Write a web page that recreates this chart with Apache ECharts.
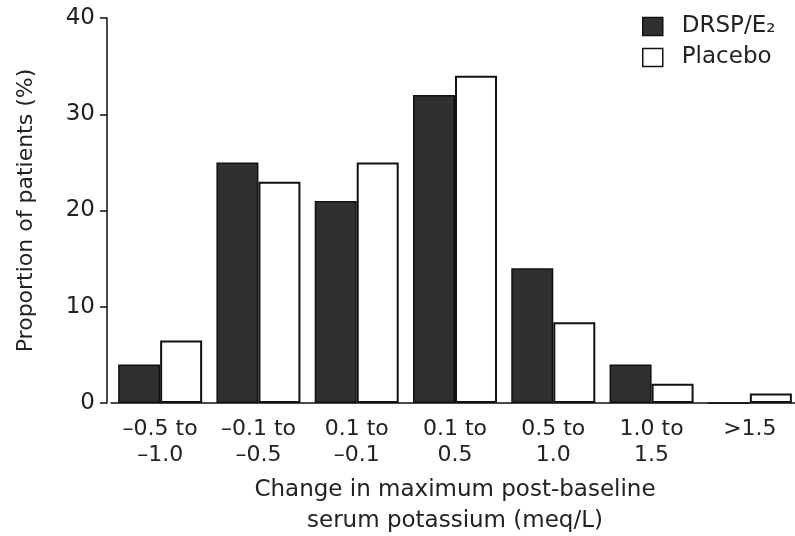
<!DOCTYPE html>
<html>
<head>
<meta charset="utf-8">
<script src="https://cdn.jsdelivr.net/npm/echarts@6/dist/echarts.min.js"></script>
<style>html,body{margin:0;padding:0;background:#fff;}#c{width:795px;height:536px;}</style>
</head>
<body>
<div id="c"></div>
<script>
var categories = ['–0.5 to\n–1.0', '–0.1 to\n–0.5', '0.1 to\n–0.1', '0.1 to\n0.5', '0.5 to\n1.0', '1.0 to\n1.5', '>1.5'];
var drspValues = [4, 25, 21, 32, 14, 4, 0];
var placeboValues = [6.5, 23, 25, 34, 8.4, 2, 1];
var yTicks = [0, 10, 20, 30, 40];

var FONT = 'DejaVu Sans';
var chart = echarts.init(document.getElementById('c'), null, {renderer: 'canvas'});
chart.setOption({
  animation: false,
  backgroundColor: '#fff',
  textStyle: {fontFamily: FONT, color: '#222'},
  grid: {left: 111, top: 18, width: 688, bottom: 133, containLabel: false, outerBoundsMode: 'none'},
  legend: {
    orient: 'vertical', left: 642, top: 15, padding: 0, itemWidth: 20, itemHeight: 18, itemGap: 8,
    icon: 'rect',
    textStyle: {fontFamily: FONT, fontSize: 23, color: '#222', padding: [0,0,0,14]},
    data: [
      {name: 'DRSP/E₂', itemStyle: {color: '#303030', borderColor: '#111', borderWidth: 1.5}},
      {name: 'Placebo', itemStyle: {color: '#fff', borderColor: '#111', borderWidth: 1.5}}
    ]
  },
  xAxis: {
    type: 'category', data: categories,
    axisLine: {lineStyle: {color: '#111', width: 1.5}},
    axisTick: {show: false},
    axisLabel: {fontFamily: FONT, fontSize: 22, color: '#222', lineHeight: 26, margin: 13, interval: 0},
    name: 'Change in maximum post-baseline\nserum potassium (meq/L)',
    nameLocation: 'middle', nameGap: 72,
    nameTextStyle: {fontFamily: FONT, fontSize: 23, color: '#222', lineHeight: 31}
  },
  yAxis: {
    type: 'value', min: yTicks[0], max: yTicks[yTicks.length-1], interval: 10,
    offset: 4,
    axisLine: {show: true, lineStyle: {color: '#111', width: 1.5}},
    axisTick: {show: true, length: 7, lineStyle: {color: '#111', width: 1.5}},
    splitLine: {show: false},
    axisLabel: {fontFamily: FONT, fontSize: 23, color: '#222', margin: 12},
    name: 'Proportion of patients (%)',
    nameLocation: 'middle', nameGap: 70,
    nameTextStyle: {fontFamily: FONT, fontSize: 22, color: '#222'}
  },
  series: [
    {name: 'DRSP/E₂', type: 'bar', data: drspValues, barWidth: 42, barGap: '0%',
     itemStyle: {color: '#303030', borderColor: '#111', borderWidth: 1.5}},
    {name: 'Placebo', type: 'bar', data: placeboValues, barWidth: 42,
     itemStyle: {color: '#fff', borderColor: '#111', borderWidth: 2}}
  ]
});
</script>
</body>
</html>
